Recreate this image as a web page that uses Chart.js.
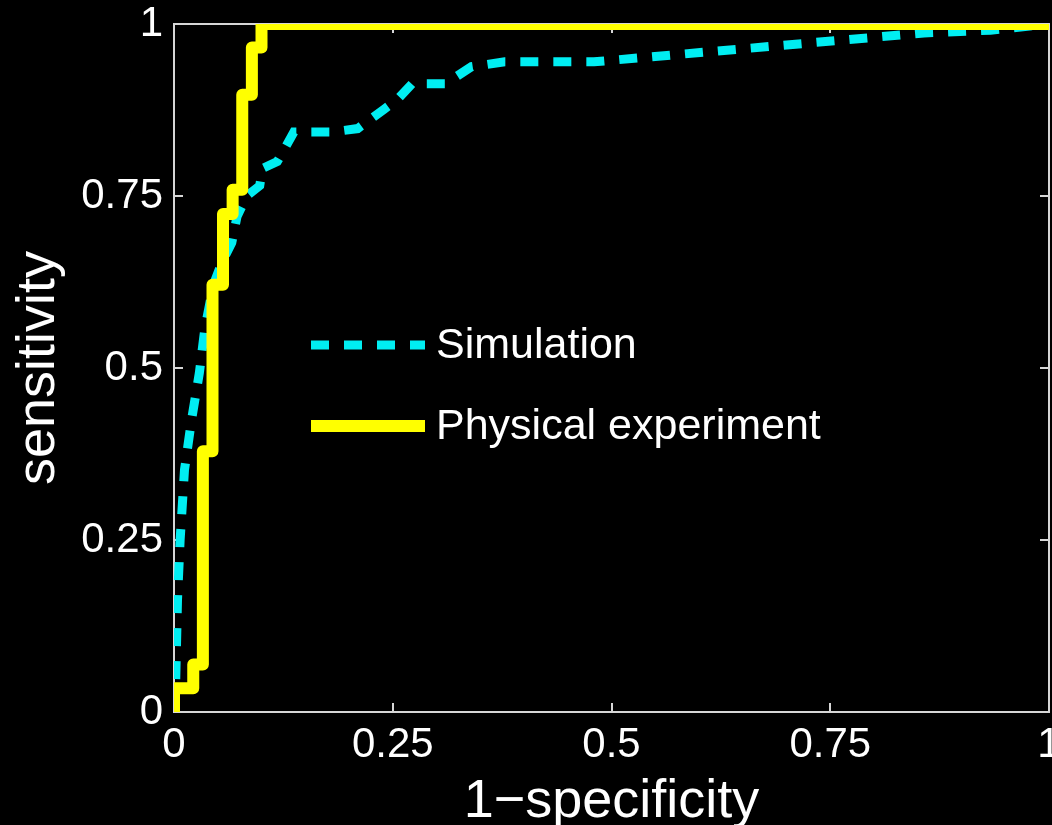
<!DOCTYPE html>
<html>
<head>
<meta charset="utf-8">
<script src="https://cdn.jsdelivr.net/npm/chart.js@4.4.1/dist/chart.umd.min.js"></script>
<style>
  html, body { margin: 0; padding: 0; background: #000; }
  #wrap { width: 1052px; height: 825px; position: relative; }
</style>
</head>
<body>
<div id="wrap"><canvas id="roc"></canvas></div>
<script>
// ROC points: 1-specificity (false positive rate) vs sensitivity
const simFpr = [0, 0.002, 0.004, 0.007, 0.012, 0.02, 0.029, 0.035, 0.045, 0.055, 0.066, 0.072, 0.083, 0.098, 0.101, 0.118, 0.127, 0.137, 0.18, 0.21, 0.24, 0.255, 0.272, 0.31, 0.34, 0.378, 0.48, 0.857, 0.933, 1];
const simTpr = [0, 0.047, 0.163, 0.25, 0.352, 0.424, 0.493, 0.555, 0.621, 0.654, 0.682, 0.72, 0.75, 0.765, 0.79, 0.8, 0.82, 0.843, 0.843, 0.848, 0.876, 0.89, 0.913, 0.913, 0.938, 0.945, 0.945, 0.987, 0.991, 1];

const physFpr = [0, 0, 0.022, 0.033, 0.044, 0.056, 0.067, 0.078, 0.089, 0.1, 1];
const physTpr = [0, 0.0345, 0.069, 0.379, 0.621, 0.724, 0.759, 0.897, 0.966, 1, 1];

const tickValues = [0, 0.25, 0.5, 0.75, 1];
const seriesNames = ['Simulation', 'Physical experiment'];
const seriesColors = ['#00eef2', '#ffff00'];

const FONT = '"Liberation Sans", Arial, sans-serif';
const AXIS_COLOR = '#d6d6d6';

function toPoints(xs, ys) {
    return xs.map((x, i) => ({ x: x, y: ys[i] }));
}

function setTicks(scale) {
    scale.ticks = tickValues.map(v => ({ value: v }));
}

// legend sits inside the plot, left-middle
const insideLegend = {
    id: 'insideLegend',
    afterDatasetsDraw(chart) {
        const ctx = chart.ctx;
        const area = chart.chartArea;
        ctx.save();
        chart.data.datasets.forEach((ds, i) => {
            const x0 = area.left + 137;
            const y = area.top + 321 + i * 81;
            ctx.strokeStyle = ds.borderColor;
            ctx.lineWidth = ds.borderWidth;
            ctx.lineCap = 'butt';
            ctx.setLineDash(ds.borderDash || []);
            ctx.beginPath();
            ctx.moveTo(x0, y);
            ctx.lineTo(x0 + 114, y);
            ctx.stroke();
            ctx.setLineDash([]);
            ctx.fillStyle = '#ffffff';
            ctx.font = '43px ' + FONT;
            ctx.textBaseline = 'middle';
            ctx.fillText(ds.label, x0 + 125, y + 1);
        });
        ctx.restore();
    }
};

function boxAxis(position, extra) {
    return Object.assign({
        type: 'linear',
        position: position,
        min: 0,
        max: 1,
        afterBuildTicks: setTicks,
        border: { display: true, color: AXIS_COLOR, width: 2 },
        grid: { drawOnChartArea: false, drawTicks: true, tickLength: -9, color: AXIS_COLOR, lineWidth: 2 },
        ticks: { display: false }
    }, extra);
}

const tickText = v => String(v);

new Chart(document.getElementById('roc'), {
    type: 'scatter',
    data: {
        datasets: [
            {
                label: seriesNames[0],
                data: toPoints(simFpr, simTpr),
                showLine: true,
                borderColor: seriesColors[0],
                borderWidth: 9,
                borderDash: [18, 15],
                borderCapStyle: 'butt',
                pointRadius: 0,
                clip: 0,
                order: 2
            },
            {
                label: seriesNames[1],
                data: toPoints(physFpr, physTpr),
                showLine: true,
                stepped: 'before',
                borderColor: seriesColors[1],
                borderWidth: 12,
                borderJoinStyle: 'round',
                pointRadius: 0,
                clip: 0,
                order: 1
            }
        ]
    },
    options: {
        responsive: true,
        maintainAspectRatio: false,
        animation: false,
        layout: { padding: { top: 24, right: 3, left: 0, bottom: 0 } },
        scales: {
            x: boxAxis('bottom', {
                ticks: { display: true, color: '#ffffff', padding: 17, maxRotation: 0, callback: tickText, font: { family: FONT, size: 42 } },
                title: { display: true, text: '1\u2212specificity', color: '#ffffff', font: { family: FONT, size: 54, lineHeight: 1 }, padding: { top: 0, bottom: -4 } },
                afterFit: s => { s.height = 113; s.paddingLeft = 0; s.paddingRight = 0; }
            }),
            y: boxAxis('left', {
                ticks: { display: true, color: '#ffffff', padding: 20, callback: tickText, font: { family: FONT, size: 42 } },
                title: { display: true, text: 'sensitivity', color: '#ffffff', font: { family: FONT, size: 54 }, padding: { top: 7, bottom: 0 } },
                afterFit: s => { s.width = 174; s.paddingTop = 0; s.paddingBottom = 0; }
            }),
            x2: boxAxis('top', {
                afterFit: s => { s.height = 0; s.paddingLeft = 0; s.paddingRight = 0; }
            }),
            y2: boxAxis('right', {
                afterFit: s => { s.width = 0; s.paddingTop = 0; s.paddingBottom = 0; }
            })
        },
        plugins: {
            legend: { display: false },
            tooltip: { enabled: false }
        }
    },
    plugins: [insideLegend]
});
</script>
</body>
</html>
